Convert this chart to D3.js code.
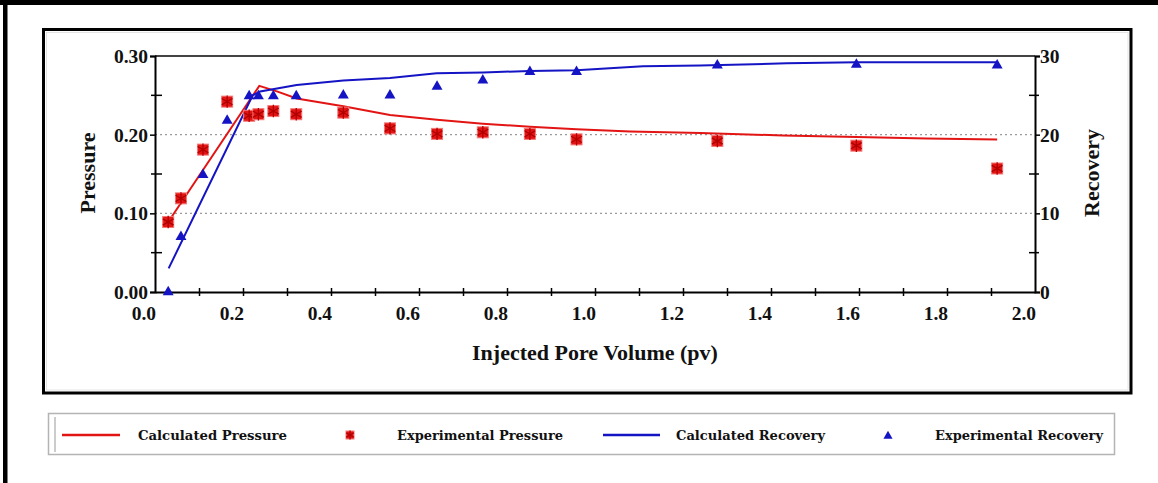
<!DOCTYPE html>
<html>
<head>
<meta charset="utf-8">
<script src="https://cdn.jsdelivr.net/npm/d3@7"></script>
<style>
  html, body { margin: 0; padding: 0; background: #fff; }
  svg { display: block; }
  .tick-lbl { font-family: "Liberation Serif", "Times New Roman", serif; font-weight: bold; font-size: 19.5px; fill: #111; }
  .ax-title { font-family: "Liberation Serif", "Times New Roman", serif; font-weight: bold; font-size: 22px; fill: #111; }
  .leg-lbl { font-family: "DejaVu Serif", serif; font-weight: bold; font-size: 12.5px; fill: #111; }
</style>
</head>
<body>
<svg id="chart" width="1158" height="483"></svg>
<script>
// Injected pore volume for the experimental measurements
const pvExp = [0.030, 0.059, 0.109, 0.164, 0.214, 0.235, 0.269, 0.321, 0.428, 0.534, 0.641, 0.745, 0.852, 0.958, 1.278, 1.594, 1.914];
const pressureExp = [0.089, 0.119, 0.181, 0.242, 0.224, 0.226, 0.230, 0.226, 0.228, 0.208, 0.201, 0.203, 0.201, 0.194, 0.192, 0.186, 0.157];
const recoveryExp = [0.0, 7.0, 14.9, 21.8, 24.9, 24.9, 24.9, 24.9, 25.0, 25.0, 26.1, 26.9, 28.0, 28.0, 28.8, 28.9, 28.8];

// Simulated curves
const pvCalcP = [0.030, 0.237, 0.277, 0.322, 0.428, 0.534, 0.641, 0.745, 0.852, 0.958, 1.080, 1.239, 1.427, 1.595, 1.754, 1.914];
const pressureCalc = [0.089, 0.262, 0.255, 0.246, 0.236, 0.225, 0.219, 0.214, 0.210, 0.207, 0.204, 0.202, 0.199, 0.197, 0.195, 0.194];
const pvCalcR = [0.031, 0.222, 0.239, 0.322, 0.428, 0.534, 0.640, 0.746, 0.852, 0.958, 1.109, 1.239, 1.436, 1.595, 1.913];
const recoveryCalc = [3.0, 25.0, 25.5, 26.3, 26.9, 27.2, 27.8, 27.9, 28.1, 28.2, 28.7, 28.8, 29.07, 29.2, 29.2];

// Axis ticks
const xTicks = [0.1,0.2,0.3,0.4,0.5,0.6,0.7,0.8,0.9,1.0,1.1,1.2,1.3,1.4,1.5,1.6,1.7,1.8,1.9];
const xLabels = [0.0,0.2,0.4,0.6,0.8,1.0,1.2,1.4,1.6,1.8,2.0];
const pMajor = [0.0, 0.1, 0.2, 0.3];
const pMinor = [0.05, 0.15, 0.25];
const rMajor = [0, 10, 20, 30];
const rMinor = [5, 15, 25];

const legendItems = ["Calculated Pressure", "Experimental Pressure", "Calculated Recovery", "Experimental Recovery"];

const RED = "#e31414";
const BLUE = "#1414c4";

const svg = d3.select("#chart");

// Outer frame (top and left bars)
svg.append("rect").attr("x", 0).attr("y", 0).attr("width", 1158).attr("height", 5).attr("fill", "#000");
svg.append("rect").attr("x", 3).attr("y", 0).attr("width", 4.5).attr("height", 483).attr("fill", "#000");

// Chart box
svg.append("rect").attr("x", 43.5).attr("y", 29.5).attr("width", 1087.5).attr("height", 363.5)
  .attr("fill", "#fff").attr("stroke", "#000").attr("stroke-width", 3);
svg.append("rect").attr("x", 46.5).attr("y", 32.5).attr("width", 1081.5).attr("height", 357.5)
  .attr("fill", "none").attr("stroke", "#e4e4e4").attr("stroke-width", 1);

const x = d3.scaleLinear().domain([0, 2]).range([155, 1035]);
const yP = d3.scaleLinear().domain([0, 0.3]).range([292, 56]);
const yR = d3.scaleLinear().domain([0, 30]).range([292, 56]);

// Dotted grid
svg.append("g").selectAll("line").data([0.1, 0.2]).join("line")
  .attr("x1", x(0)).attr("x2", x(2))
  .attr("y1", d => yP(d)).attr("y2", d => yP(d))
  .attr("stroke", "#9a9a9a").attr("stroke-width", 1.2).attr("stroke-dasharray", "2,3");

// Frame lines of plot
svg.append("line").attr("x1", x(0)).attr("x2", x(2)).attr("y1", yP(0.3)).attr("y2", yP(0.3))
  .attr("stroke", "#444").attr("stroke-width", 2);

// Bottom axis
const gx = svg.append("g").attr("transform", `translate(0,${yP(0)})`)
  .call(d3.axisBottom(x).tickValues(xTicks).tickSize(0).tickFormat(""));
gx.select(".domain").attr("stroke", "#000").attr("stroke-width", 2);
gx.selectAll(".tick line").attr("y1", -4).attr("y2", 4).attr("stroke", "#000").attr("stroke-width", 1.5);
svg.append("g").selectAll("text").data(xLabels).join("text")
  .attr("class", "tick-lbl").attr("x", d => x(d) + 1).attr("y", 320)
  .attr("text-anchor", "end").text(d => d.toFixed(1));

// Left axis
const gl = svg.append("g").attr("transform", `translate(${x(0)},0)`)
  .call(d3.axisLeft(yP).tickValues(pMajor).tickSize(5).tickFormat(""));
gl.select(".domain").attr("stroke", "#000").attr("stroke-width", 2);
gl.selectAll(".tick line").attr("stroke", "#000").attr("stroke-width", 1.5);
svg.append("g").selectAll("line").data(pMinor).join("line")
  .attr("x1", x(0) - 4).attr("x2", x(0) + 7).attr("y1", d => yP(d)).attr("y2", d => yP(d))
  .attr("stroke", "#000").attr("stroke-width", 1.5);
svg.append("g").selectAll("text").data(pMajor).join("text")
  .attr("class", "tick-lbl").attr("x", 148).attr("y", d => yP(d) + 7)
  .attr("text-anchor", "end").text(d => d.toFixed(2));

// Right axis
const gr = svg.append("g").attr("transform", `translate(${x(2)},0)`)
  .call(d3.axisRight(yR).tickValues(rMajor).tickSize(5).tickFormat(""));
gr.select(".domain").attr("stroke", "#000").attr("stroke-width", 2);
gr.selectAll(".tick line").attr("stroke", "#000").attr("stroke-width", 1.5);
svg.append("g").selectAll("line").data(rMinor).join("line")
  .attr("x1", x(2) - 6).attr("x2", x(2) + 4).attr("y1", d => yR(d)).attr("y2", d => yR(d))
  .attr("stroke", "#000").attr("stroke-width", 1.5);
svg.append("g").selectAll("text").data(rMajor).join("text")
  .attr("class", "tick-lbl").attr("x", 1040).attr("y", d => yR(d) + 7)
  .attr("text-anchor", "start").text(d => d);

// Axis titles
svg.append("text").attr("class", "ax-title").attr("text-anchor", "middle")
  .attr("transform", "translate(95,173) rotate(-90)").text("Pressure");
svg.append("text").attr("class", "ax-title").attr("text-anchor", "middle")
  .attr("transform", "translate(1099,173) rotate(-90)").text("Recovery");
svg.append("text").attr("class", "ax-title").attr("text-anchor", "middle")
  .attr("x", 595).attr("y", 360).text("Injected Pore Volume (pv)");

// Calculated curves
const lineP = d3.line().x(d => x(d[0])).y(d => yP(d[1]));
const lineR = d3.line().x(d => x(d[0])).y(d => yR(d[1]));
svg.append("path").datum(d3.zip(pvCalcP, pressureCalc)).attr("d", lineP)
  .attr("fill", "none").attr("stroke", RED).attr("stroke-width", 2);
svg.append("path").datum(d3.zip(pvCalcR, recoveryCalc)).attr("d", lineR)
  .attr("fill", "none").attr("stroke", BLUE).attr("stroke-width", 2);

// Marker drawing helpers
function starMarker(g, cx, cy, s) {
  const m = g.append("g").attr("transform", `translate(${cx},${cy})`);
  m.append("rect").attr("x", -s / 2).attr("y", -s / 2).attr("width", s).attr("height", s)
    .attr("fill", RED).attr("stroke", "#f47a7a").attr("stroke-width", 1);
  m.append("path").attr("d", d3.symbol(d3.symbolAsterisk, s * s * 0.9)())
    .attr("stroke", "#b00000").attr("stroke-width", 1.3).attr("fill", "none");
}
function triMarker(g, cx, cy, size) {
  g.append("path").attr("transform", `translate(${cx},${cy})`)
    .attr("d", d3.symbol(d3.symbolTriangle, size)()).attr("fill", BLUE);
}

// Experimental points
const gPts = svg.append("g");
pvExp.forEach((v, i) => starMarker(gPts, x(v), yP(pressureExp[i]), 11));
pvExp.forEach((v, i) => triMarker(gPts, x(v), yR(recoveryExp[i]), 52));

// Legend
const lg = svg.append("g");
lg.append("rect").attr("x", 48.5).attr("y", 413.5).attr("width", 1066).attr("height", 41)
  .attr("fill", "#fff").attr("stroke", "#b4b4b4").attr("stroke-width", 1.5);
lg.append("line").attr("x1", 55).attr("x2", 55).attr("y1", 417).attr("y2", 452)
  .attr("stroke", "#999").attr("stroke-width", 1);
const ly = 435;
lg.append("line").attr("x1", 62).attr("x2", 120).attr("y1", ly).attr("y2", ly).attr("stroke", RED).attr("stroke-width", 2.5);
lg.append("line").attr("x1", 603).attr("x2", 660).attr("y1", ly).attr("y2", ly).attr("stroke", BLUE).attr("stroke-width", 2.5);
starMarker(lg, 350, ly, 8);
triMarker(lg, 888, ly + 1, 36);
const legX = [138, 397, 676, 935];
const legW = [149, 166, 149, 168];
lg.selectAll("text.leg-lbl").data(legendItems).join("text")
  .attr("class", "leg-lbl").attr("x", (d, i) => legX[i]).attr("y", ly + 5)
  .attr("textLength", (d, i) => legW[i]).attr("lengthAdjust", "spacingAndGlyphs")
  .text(d => d);
</script>
</body>
</html>
